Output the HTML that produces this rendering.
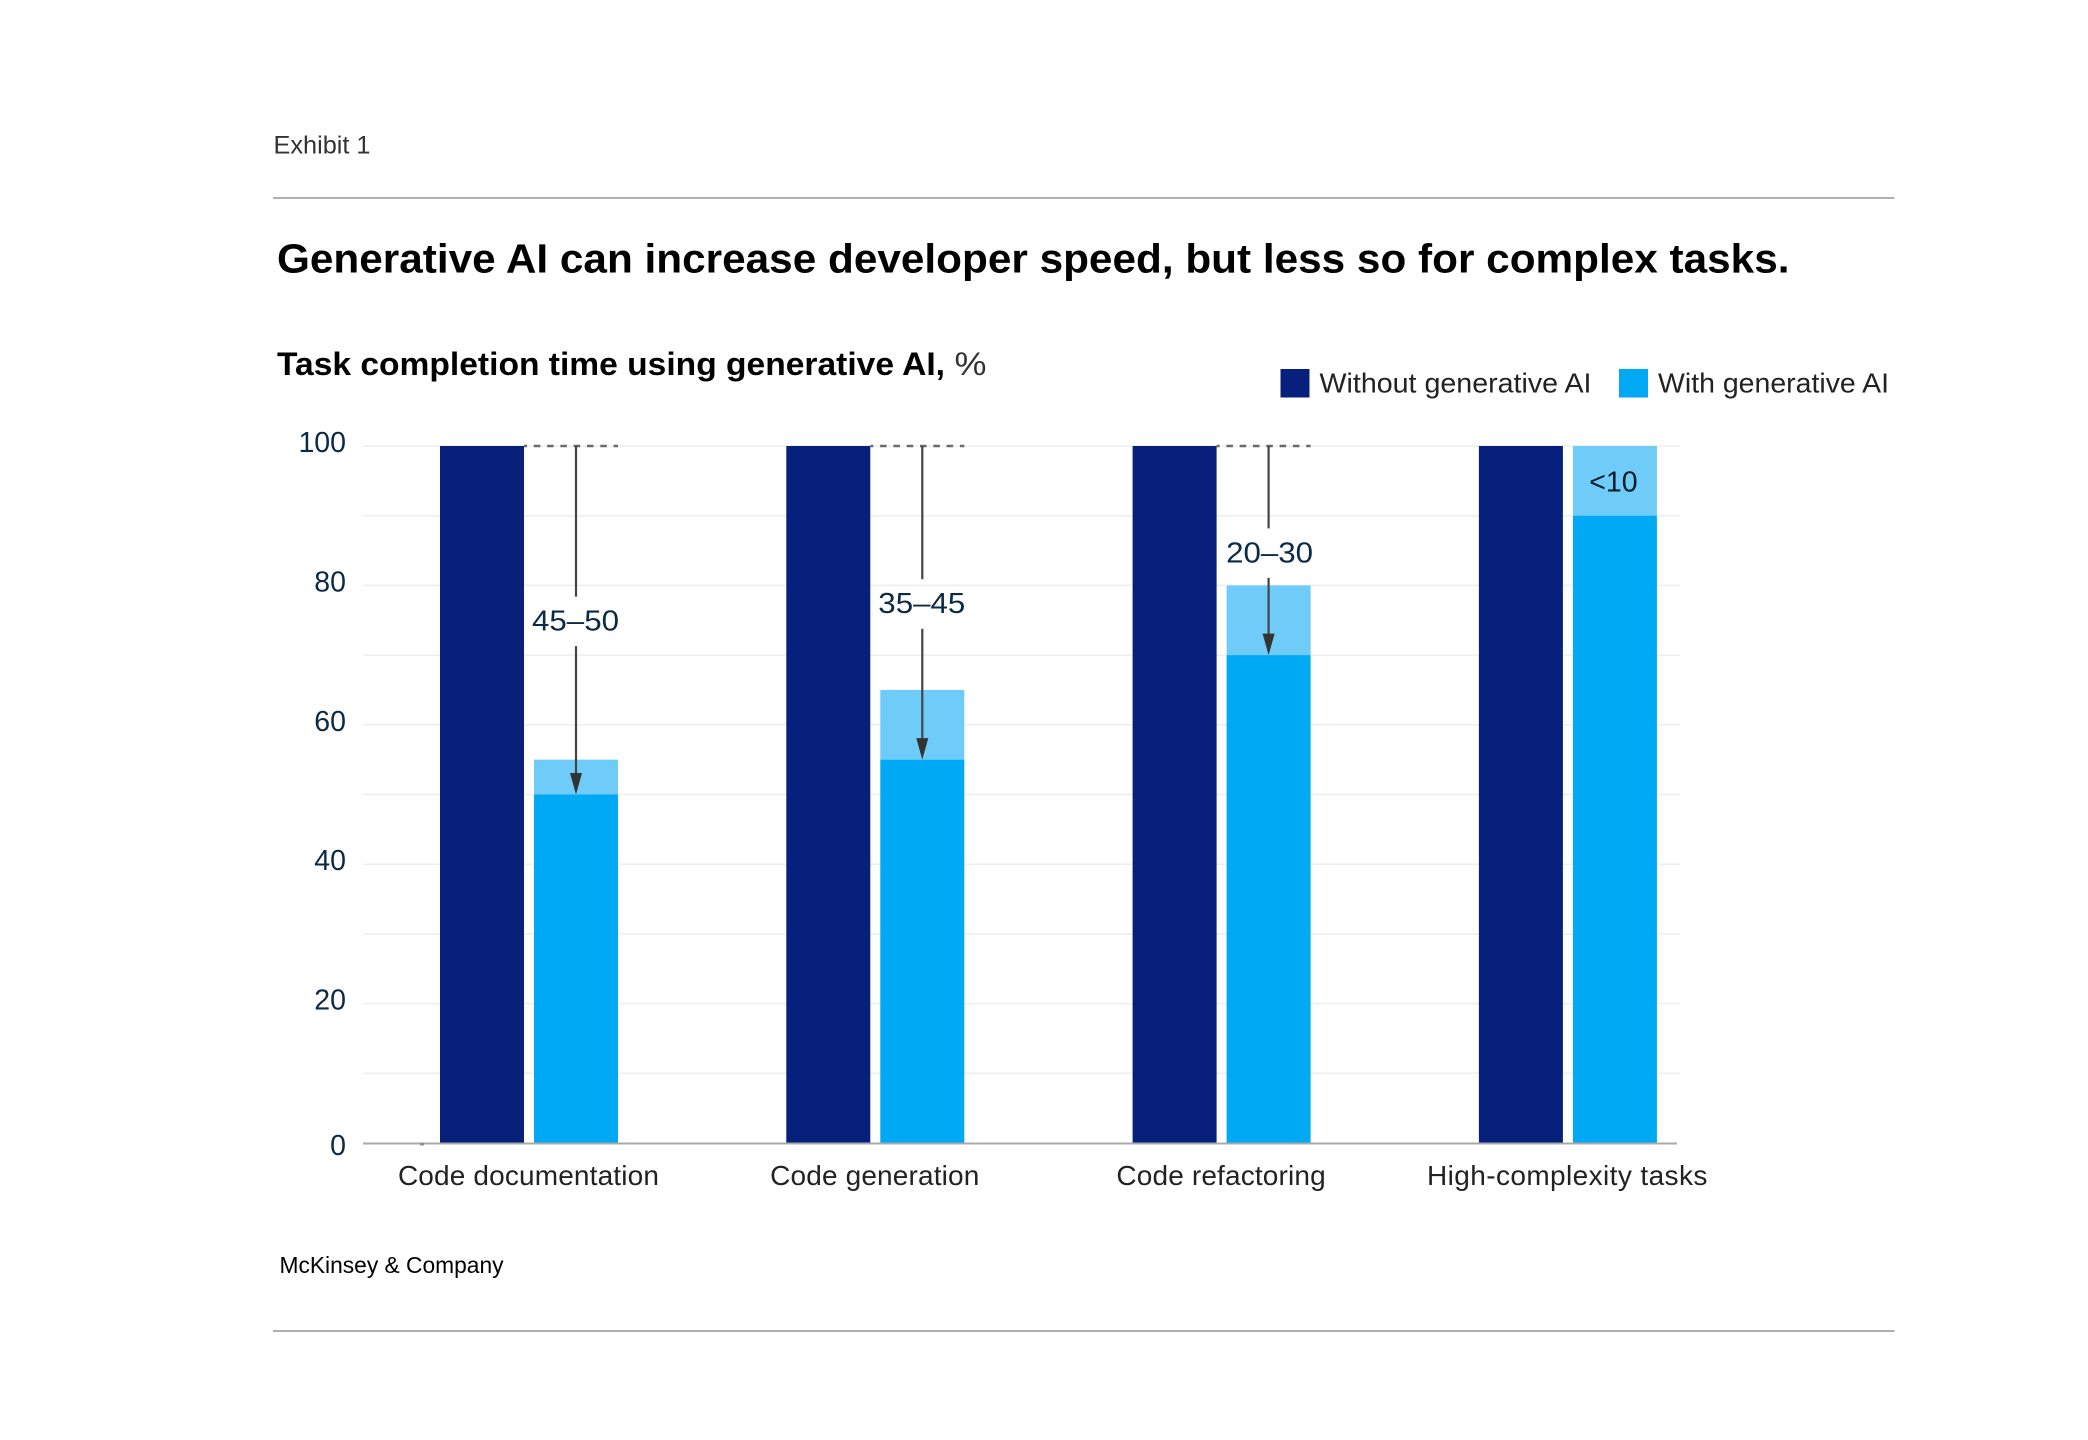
<!DOCTYPE html>
<html lang="en">
<head>
<meta charset="utf-8">
<title>Generative AI can increase developer speed</title>
<style>
html,body{margin:0;padding:0;background:#fff;}
svg{display:block;font-family:"Liberation Sans",sans-serif;}
text{fill:#222;}
</style>
</head>
<body>
<svg id="chart" xmlns="http://www.w3.org/2000/svg" width="2088" height="1440" viewBox="0 0 2088 1440">
  <rect x="0" y="0" width="2088" height="1440" fill="#ffffff"/>
  <text x="273.5" y="153.3" font-size="25" textLength="97" lengthAdjust="spacingAndGlyphs" fill="#333" style="fill:#333">Exhibit 1</text>
  <rect x="273" y="197" width="1621.5" height="2" fill="#b0b0b0"/>
  <text x="277" y="272.7" font-size="41" font-weight="700" textLength="1512.5" lengthAdjust="spacingAndGlyphs" style="fill:#000">Generative AI can increase developer speed, but less so for complex tasks.</text>
  <text x="277" y="375" font-size="32" font-weight="700" textLength="668" lengthAdjust="spacingAndGlyphs" style="fill:#000">Task completion time using generative AI,</text>
  <text x="954.5" y="375" font-size="32" textLength="32" lengthAdjust="spacingAndGlyphs" style="fill:#333">%</text>
  <g>
    <rect x="1280.5" y="369" width="29" height="28.5" fill="#06207b"/>
    <text x="1319.5" y="392.7" font-size="28" textLength="272" lengthAdjust="spacingAndGlyphs">Without generative AI</text>
    <rect x="1619" y="369" width="29" height="28.5" fill="#00a9f4"/>
    <text x="1658" y="392.7" font-size="28" textLength="231" lengthAdjust="spacingAndGlyphs">With generative AI</text>
  </g>
  <g id="plot"></g>
  <text x="279.5" y="1273" font-size="23" textLength="224" lengthAdjust="spacingAndGlyphs" style="fill:#000">McKinsey &amp; Company</text>
  <rect x="273" y="1330" width="1621.5" height="2" fill="#b0b0b0"/>
</svg>
<script>
const categories = ["Code documentation", "Code generation", "Code refactoring", "High-complexity tasks"];
const withoutAI = [100, 100, 100, 100];
const withAILow = [50, 55, 70, 90];
const withAIHigh = [55, 65, 80, 100];
const reductionLabels = ["45–50", "35–45", "20–30", "<10"];
const labelAnchors = [74.8, 77.3, 84.6, 95];
const yTickLabels = [0, 20, 40, 60, 80, 100];
const gridValues = [10, 20, 30, 40, 50, 60, 70, 80, 90, 100];

const NS = "http://www.w3.org/2000/svg";
const plot = document.getElementById("plot");
const Y0 = 1143, YTOP = 446;
const GROUP0 = 440, GROUP_STEP = 346.3, BAR_W = 84, BAR_GAP = 10;
function y(v) { return Y0 - (v / 100) * (Y0 - YTOP); }
function xDark(i) { return GROUP0 + i * GROUP_STEP; }
function xLight(i) { return xDark(i) + BAR_W + BAR_GAP; }
function make(tag, attrs, text) {
  const el = document.createElementNS(NS, tag);
  for (const k in attrs) el.setAttribute(k, attrs[k]);
  if (text !== undefined) el.textContent = text;
  plot.appendChild(el);
  return el;
}

gridValues.forEach(function (v) {
  const el = make("rect", { x: 363, y: y(v) - 0.75, width: 1317, height: 1.5, fill: "#eeeeee" });
  
  
});

yTickLabels.forEach(function (v) {
  const el = make("text", { x: 346, y: y(v) + (v === 0 ? 12 : 6), "font-size": 28.5, "text-anchor": "end", style: "fill:#0b2a45" }, String(v));
  
  
});

categories.forEach(function (name, i) {
  const dark = make("rect", { x: xDark(i), y: y(withoutAI[i]), width: BAR_W, height: Y0 - y(withoutAI[i]), fill: "#06207b" });
  
  

  const pale = make("rect", { x: xLight(i), y: y(withAIHigh[i]), width: BAR_W, height: y(withAILow[i]) - y(withAIHigh[i]), fill: "#6fcbf7" });
  
  

  const solid = make("rect", { x: xLight(i), y: y(withAILow[i]), width: BAR_W, height: Y0 - y(withAILow[i]), fill: "#00a9f4" });
  
  

  const cat = make("text", { x: xLight(i) - 5.5, y: 1185, "font-size": 28, "text-anchor": "middle", "letter-spacing": i === 3 ? 0.4 : 0.15 }, name);
  
  
});

const axis = make("rect", { x: 363, y: Y0 - 0.5, width: 1314, height: 2, fill: "#a9a9a9" });



const axisTick = make("rect", { x: 420, y: Y0 - 0.5, width: 4, height: 3, fill: "#8f8f8f" });



categories.forEach(function (name, i) {
  const cx = xLight(i) + BAR_W / 2;
  const labelY = y(labelAnchors[i]);
  if (withAIHigh[i] >= 100) {
    const inBar = make("text", { x: cx - 1.5, y: labelY + 10.5, "font-size": 28.5, "text-anchor": "middle", style: "fill:#051c2c" }, reductionLabels[i]);
    
    
    return;
  }
  const tip = y(withAILow[i]);

  const dash = make("line", { x1: xDark(i) + BAR_W, x2: xLight(i) + BAR_W, y1: YTOP, y2: YTOP, stroke: "#6a6a6a", "stroke-width": 2.5, "stroke-dasharray": "6.5 6.8", "stroke-dashoffset": 3.5 });
  
  

  const top = make("line", { x1: cx, x2: cx, y1: YTOP, y2: labelY - 25, stroke: "#444", "stroke-width": 2.2 });
  
  

  const low = make("line", { x1: cx, x2: cx, y1: labelY + 24.5, y2: tip - 18, stroke: "#444", "stroke-width": 2.2 });
  
  

  const head = make("polygon", { points: (cx - 6) + "," + (tip - 21.5) + " " + (cx + 6) + "," + (tip - 21.5) + " " + cx + "," + tip, fill: "#333" });
  
  

  const label = make("text", { x: cx + (i === 2 ? 1 : -0.5), y: labelY + 9, "font-size": 28.5, "text-anchor": "middle", textLength: 87, lengthAdjust: "spacingAndGlyphs", style: "fill:#0b2a45" }, reductionLabels[i]);
  
  
});
</script>
</body>
</html>
